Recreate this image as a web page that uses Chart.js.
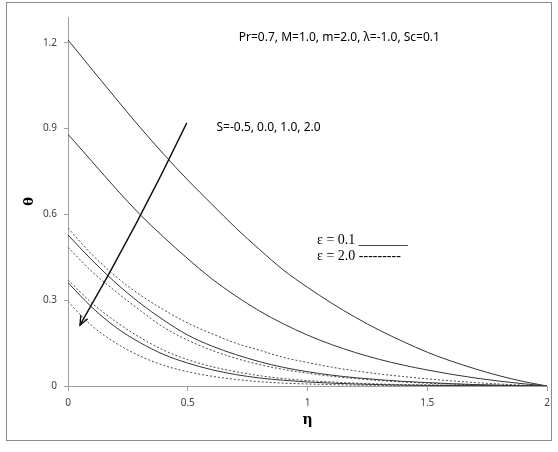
<!DOCTYPE html>
<html>
<head>
<meta charset="utf-8">
<script src="https://cdn.jsdelivr.net/npm/chart.js@4.4.0/dist/chart.umd.min.js"></script>
<style>
body{margin:0;background:#fff}
#contenedor{width:558px;height:452px}
</style>
</head>
<body>
<div id="contenedor"><canvas id="Grafico" width="558" height="452"></canvas></div>
<script>
// eta values (x axis)
const eta = [0,0.1,0.2,0.3,0.4,0.5,0.6,0.7,0.8,0.9,1.0,1.1,1.2,1.3,1.4,1.5,1.6,1.7,1.8,1.9,2.0];

// epsilon = 0.1 (solid), S = -0.5, 0.0, 1.0, 2.0
const eps01_Sm05 = [1.21,1.107,1.005,0.905,0.81,0.72,0.636,0.553,0.477,0.405,0.345,0.29,0.24,0.195,0.155,0.118,0.087,0.06,0.036,0.016,0];
const eps01_S00  = [0.88,0.785,0.69,0.60,0.52,0.445,0.375,0.315,0.262,0.217,0.178,0.145,0.117,0.093,0.073,0.056,0.041,0.028,0.017,0.008,0];
const eps01_S10  = [0.528,0.44,0.36,0.29,0.23,0.178,0.14,0.11,0.085,0.065,0.05,0.038,0.029,0.022,0.016,0.012,0.008,0.005,0.003,0.001,0];
const eps01_S20  = [0.361,0.275,0.205,0.152,0.11,0.08,0.057,0.04,0.028,0.02,0.014,0.01,0.007,0.005,0.003,0.002,0.0015,0.001,0.0005,0.0002,0];

// epsilon = 2.0 (dashed)
const eps20_Sm05 = [0.552,0.46,0.383,0.319,0.266,0.22,0.183,0.15,0.125,0.10,0.082,0.066,0.053,0.042,0.033,0.025,0.018,0.012,0.007,0.003,0];
const eps20_S00  = [0.485,0.40,0.33,0.265,0.205,0.16,0.125,0.097,0.075,0.058,0.045,0.034,0.026,0.019,0.014,0.01,0.007,0.004,0.002,0.001,0];
const eps20_S10  = [0.371,0.29,0.225,0.17,0.125,0.092,0.068,0.05,0.036,0.026,0.019,0.014,0.01,0.007,0.005,0.004,0.003,0.002,0.001,0.0005,0];
const eps20_S20  = [0.295,0.21,0.15,0.105,0.072,0.05,0.034,0.023,0.015,0.01,0.007,0.005,0.003,0.002,0.001,0.001,0.0005,0.0003,0.0002,0.0001,0];

const xTicks = [0,0.5,1,1.5,2];
const yTicks = [0,0.3,0.6,0.9,1.2];

// arrow from (eta, theta) to (eta, theta)
const arrowFrom = [0.496, 0.92];
const arrowTo = [0.05, 0.213];

function serie(vals, dashed) {
    return {
        data: eta.map((x, i) => ({x: x, y: vals[i]})),
        borderColor: dashed ? '#4a4a4a' : '#333',
        borderWidth: 1,
        borderDash: dashed ? [2, 2] : [],
        pointRadius: 0,
        cubicInterpolationMode: 'monotone',
        fill: false
    };
}

const marco = {
    id: 'marco',
    beforeDraw(chart) {
        const ctx = chart.ctx;
        ctx.save();
        ctx.fillStyle = '#fff';
        ctx.fillRect(0, 0, chart.width, chart.height);
        ctx.strokeStyle = '#8c8c8c';
        ctx.lineWidth = 1;
        ctx.strokeRect(6.5, 2.5, 545, 438);
        ctx.restore();
    }
};

const notas = {
    id: 'notas',
    afterDraw(chart) {
        const ctx = chart.ctx;
        const x = chart.scales.x, y = chart.scales.y;
        ctx.save();
        // arrow
        const x1 = x.getPixelForValue(arrowFrom[0]), y1 = y.getPixelForValue(arrowFrom[1]);
        const x2 = x.getPixelForValue(arrowTo[0]), y2 = y.getPixelForValue(arrowTo[1]);
        ctx.strokeStyle = '#111';
        ctx.lineWidth = 1.4;
        ctx.beginPath();
        ctx.moveTo(x1, y1);
        ctx.quadraticCurveTo((x1 + x2) / 2 + 4, (y1 + y2) / 2 + 2, x2, y2);
        ctx.stroke();
        const ang = Math.atan2(y2 - y1, x2 - x1);
        const len = 10;
        ctx.beginPath();
        ctx.moveTo(x2 - len * Math.cos(ang - 0.4), y2 - len * Math.sin(ang - 0.4));
        ctx.lineTo(x2, y2);
        ctx.lineTo(x2 - len * Math.cos(ang + 0.4), y2 - len * Math.sin(ang + 0.4));
        ctx.stroke();

        // texts
        ctx.fillStyle = '#000';
        ctx.textBaseline = 'middle';
        ctx.font = '12px "Noto Sans"';
        ctx.textAlign = 'center';
        ctx.fillText('Pr=0.7, M=1.0, m=2.0, \u03bb=-1.0, Sc=0.1', x.getPixelForValue(1.133), y.getPixelForValue(1.218));
        ctx.textAlign = 'left';
        ctx.fillText('S=-0.5, 0.0, 1.0, 2.0', x.getPixelForValue(0.62), y.getPixelForValue(0.903));

        ctx.font = '14px "Liberation Serif"';
        const lx = x.getPixelForValue(1.04);
        ctx.fillText('\u03b5 = 0.1 _______', lx, y.getPixelForValue(0.51));
        ctx.fillText('\u03b5 = 2.0 ---------', lx, y.getPixelForValue(0.455));
        ctx.restore();
    }
};

const ctx = document.getElementById('Grafico').getContext('2d');
const grafico = new Chart(ctx, {
    type: 'line',
    data: {
        datasets: [
            serie(eps01_Sm05, false),
            serie(eps01_S00, false),
            serie(eps01_S10, false),
            serie(eps01_S20, false),
            serie(eps20_Sm05, true),
            serie(eps20_S00, true),
            serie(eps20_S10, true),
            serie(eps20_S20, true)
        ]
    },
    options: {
        responsive: false,
        animation: false,
        devicePixelRatio: 1,
        layout: {padding: {left: 0, top: 17, right: 11, bottom: 0}},
        plugins: {legend: {display: false}, tooltip: {enabled: false}},
        scales: {
            x: {
                type: 'linear',
                min: 0,
                max: 2,
                afterBuildTicks: s => { s.ticks = xTicks.map(v => ({value: v})); },
                afterFit: s => { s.height = 66; },
                ticks: {
                    font: {family: '"Noto Sans"', size: 10},
                    color: '#404040',
                    padding: 6,
                    maxRotation: 0,
                    callback: v => String(v)
                },
                grid: {drawOnChartArea: false, tickLength: 5, color: '#a0a0a0'},
                border: {color: '#a0a0a0'},
                title: {
                    display: true,
                    text: '\u03b7',
                    font: {family: '"DejaVu Serif"', size: 14, weight: 'bold'},
                    color: '#000',
                    padding: {top: 0, bottom: 23}
                }
            },
            y: {
                min: 0,
                max: 1.29,
                afterBuildTicks: s => { s.ticks = yTicks.map(v => ({value: v})); },
                afterFit: s => { s.width = 68; },
                ticks: {
                    font: {family: '"Noto Sans"', size: 10},
                    color: '#404040',
                    padding: 7,
                    callback: v => v === 0 ? '0' : v.toFixed(1)
                },
                grid: {drawOnChartArea: false, tickLength: 4, color: '#a0a0a0'},
                border: {color: '#a0a0a0'},
                title: {
                    display: true,
                    text: '\u03b8',
                    font: {family: '"DejaVu Serif"', size: 13, weight: 'bold'},
                    color: '#000',
                    padding: {top: 22, bottom: 0}
                }
            }
        }
    },
    plugins: [marco, notas]
});
</script>
</body>
</html>
